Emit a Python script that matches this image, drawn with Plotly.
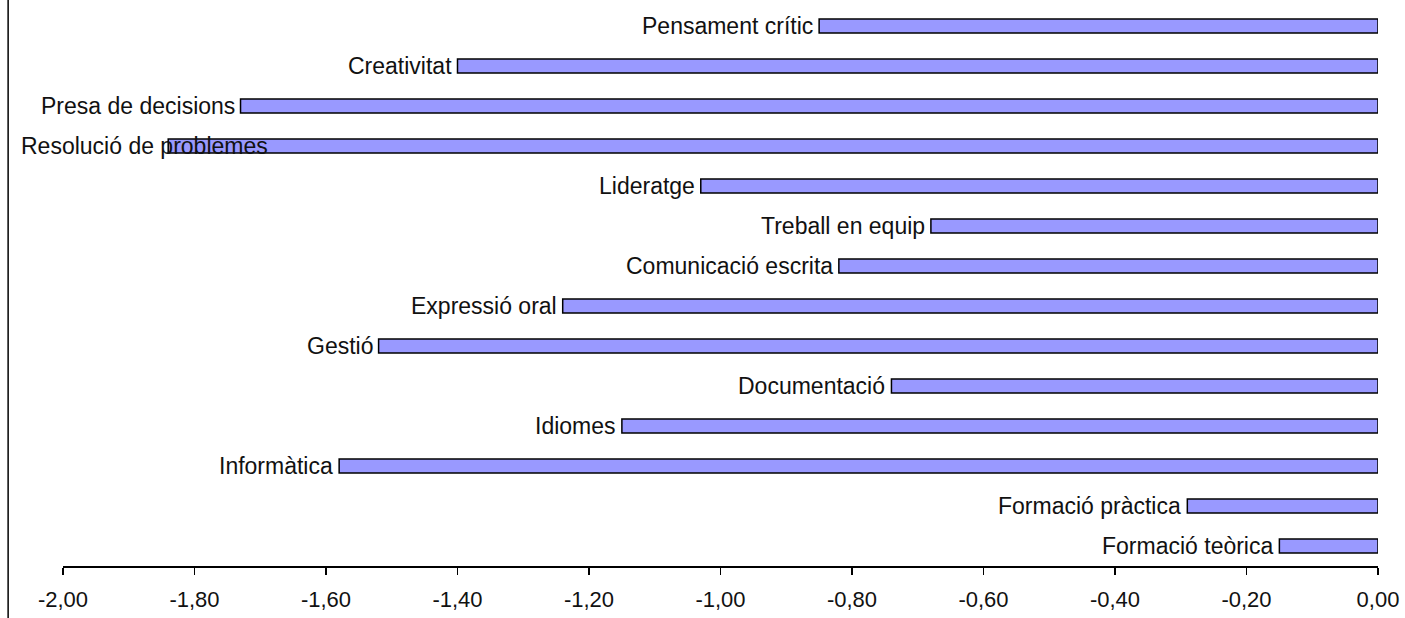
import plotly.graph_objects as go

categories = ["Formació teòrica", "Formació pràctica", "Informàtica", "Idiomes",
              "Documentació", "Gestió", "Expressió oral", "Comunicació escrita",
              "Treball en equip", "Lideratge", "Resolució de problemes",
              "Presa de decisions", "Creativitat", "Pensament crític"]
values = [-0.15, -0.29, -1.58, -1.15, -0.74, -1.52, -1.24, -0.82,
          -0.68, -1.03, -1.84, -1.73, -1.40, -0.85]
tick_vals = [-2.0, -1.8, -1.6, -1.4, -1.2, -1.0, -0.8, -0.6, -0.4, -0.2, 0.0]
tick_text = ["-2,00", "-1,80", "-1,60", "-1,40", "-1,20", "-1,00",
             "-0,80", "-0,60", "-0,40", "-0,20", "0,00"]

FONT = "Liberation Sans, Arial, sans-serif"
W, H = 1405, 618
ML, MR, MT, MB = 63, 24, 6, 52
PW, PH = W - ML - MR, H - MT - MB

fig = go.Figure()
fig.add_trace(go.Bar(
    x=values, y=list(range(len(categories))), orientation="h",
    width=0.35,
    marker=dict(color="#9999FF", line=dict(color="black", width=1.5)),
    hoverinfo="skip", showlegend=False,
))

for i, (c, v) in enumerate(zip(categories, values)):
    if v < -1.8:
        # label does not fit to the left of the bar: pin it to the chart's left edge
        fig.add_annotation(x=(19 - ML) / PW, xref="paper", y=i, text=c,
                           showarrow=False, xanchor="left", yanchor="middle",
                           font=dict(family=FONT, size=23, color="#111111"))
    else:
        fig.add_annotation(x=v, y=i, text=c, showarrow=False, xanchor="right",
                           yanchor="middle", xshift=-4,
                           font=dict(family=FONT, size=23, color="#111111"))

fig.add_shape(type="line", xref="paper", yref="paper",
              x0=(8 - ML) / PW, x1=(8 - ML) / PW, y0=-MB / PH, y1=1 + MT / PH,
              line=dict(color="black", width=1.5))

fig.update_layout(
    width=W, height=H,
    margin=dict(l=ML, r=MR, t=MT, b=MB),
    plot_bgcolor="white", paper_bgcolor="white",
    xaxis=dict(range=[-2.0, 0.0], tickvals=tick_vals, ticktext=tick_text,
               showgrid=False, zeroline=False, showline=True, linecolor="black",
               linewidth=1.5, ticks="outside", ticklen=7, tickcolor="black",
               tickwidth=1.5, tickfont=dict(family=FONT, size=22, color="#111111"),
               ticklabelstandoff=6),
    yaxis=dict(range=[-0.5, 13.5], showticklabels=False, showgrid=False,
               zeroline=False, showline=False, ticks=""),
)

fig.write_html("out.html",
               config={"displayModeBar": False, "staticPlot": True},
               post_script="document.body.style.margin='0px';document.body.style.overflow='hidden';")
